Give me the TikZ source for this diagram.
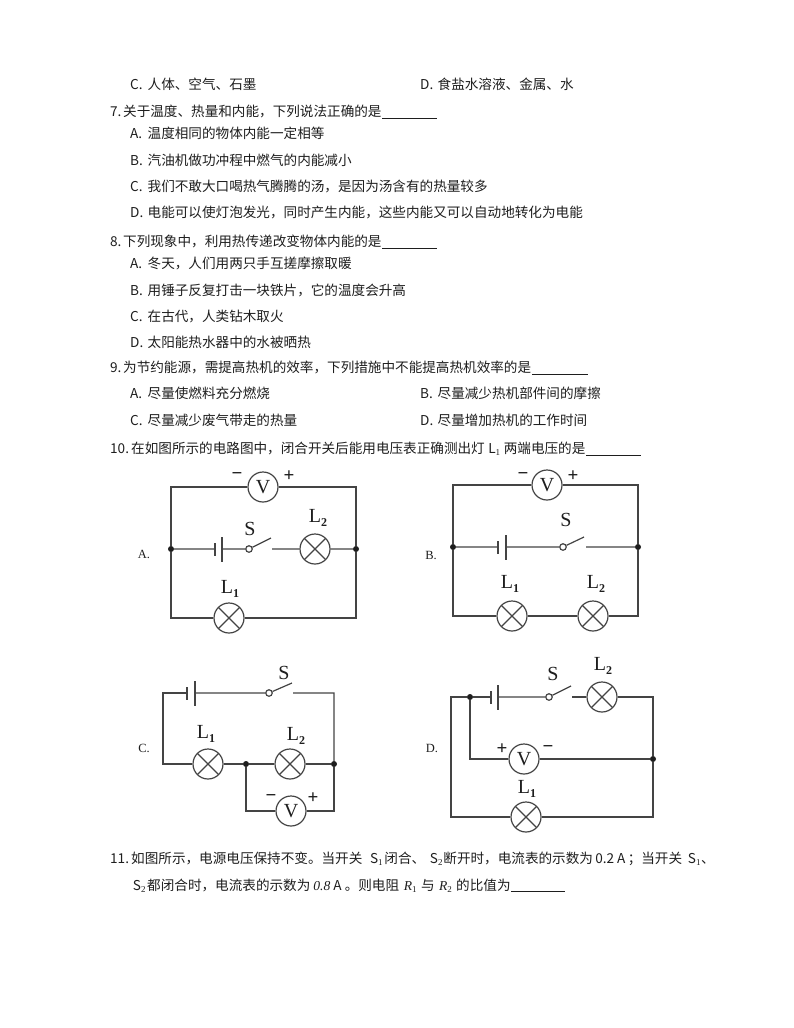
\documentclass[tikz,border=0pt]{standalone}
\usepackage{fontspec}
\setmainfont{Noto Sans CJK SC}
\newfontfamily\lat{Liberation Serif}
\usetikzlibrary{calc}
\definecolor{ink}{HTML}{1E1E1E}
\definecolor{wirec}{HTML}{444444}
\newcommand{\lbl}[2]{{\lat\fontsize{20}{20}\selectfont #1\raisebox{-4pt}{\fontsize{12}{12}\selectfont\bfseries #2}}}
\newcommand{\sbs}[1]{\raisebox{-2pt}{\lat\fontsize{9}{9}\selectfont #1}}
\newcommand{\opt}[1]{\makebox[17.5pt][l]{#1}}
\newcommand{\qn}[2]{\makebox[#1][l]{#2}}
\newcommand{\bx}[2]{\makebox[#1][c]{#2}}
\tikzset{
  x=1pt,y=-1pt,
  txt/.style={inner sep=0pt,anchor=base west,text=ink,font=\fontsize{13.6}{16}\selectfont},
  blank/.style={draw=ink,line width=0.7pt},
  wire/.style={draw=wirec,line width=1.2pt},
  lamp/.style={circle,draw=wirec,line width=1.2pt,minimum size=30pt,inner sep=0pt,
    path picture={\draw[wirec,line width=1.2pt] (path picture bounding box.south west)++(4.4pt,4.4pt) -- ++(21.2pt,21.2pt);
                  \draw[wirec,line width=1.2pt] (path picture bounding box.north west)++(4.4pt,-4.4pt) -- ++(21.2pt,-21.2pt);}},
  meter/.style={circle,draw=wirec,line width=1.2pt,minimum size=30pt,inner sep=0pt,text=ink,font=\lat\fontsize{20}{20}\selectfont},
  jdot/.style={circle,fill=ink,inner sep=0pt,minimum size=6pt},
  pivot/.style={circle,draw=wirec,fill=white,line width=1.2pt,inner sep=0pt,minimum size=6.5pt},
  platelong/.style={rectangle,fill=wirec,inner sep=0pt,minimum width=1.4pt,minimum height=25pt},
  plateshort/.style={rectangle,fill=wirec,inner sep=0pt,minimum width=1.4pt,minimum height=13pt},
  clabel/.style={inner sep=0pt,text=ink},
  sign/.style={inner sep=0pt,text=ink,font=\lat\bfseries\fontsize{19}{19}\selectfont},
  optl/.style={inner sep=0pt,text=ink,font=\lat\fontsize{12.5}{14}\selectfont},
}
\begin{document}
\begin{tikzpicture}
\useasboundingbox (0,0) rectangle (794,1028);
\fill[white] (0,0) rectangle (794,1028);
% text
\node[txt] (t1) at (130,89) {\opt{C.}人体、空气、石墨};
\node[txt] (t2) at (420,89) {\opt{D.}食盐水溶液、金属、水};
\node[txt] (q7) at (110,116) {\qn{13pt}{7.}关于温度、热量和内能，下列说法正确的是};
\draw[blank] (382,118) -- (437,118);
\node[txt] (t3) at (130,138) {\opt{A.}温度相同的物体内能一定相等};
\node[txt] (t4) at (130,165) {\opt{B.}汽油机做功冲程中燃气的内能减小};
\node[txt] (t5) at (130,191) {\opt{C.}我们不敢大口喝热气腾腾的汤，是因为汤含有的热量较多};
\node[txt] (t6) at (130,217) {\opt{D.}电能可以使灯泡发光，同时产生内能，这些内能又可以自动地转化为电能};
\node[txt] (q8) at (110,246) {\qn{13pt}{8.}下列现象中，利用热传递改变物体内能的是};
\draw[blank] (382,248) -- (437,248);
\node[txt] (t7) at (130,268) {\opt{A.}冬天，人们用两只手互搓摩擦取暖};
\node[txt] (t8) at (130,295) {\opt{B.}用锤子反复打击一块铁片，它的温度会升高};
\node[txt] (t9) at (130,321) {\opt{C.}在古代，人类钻木取火};
\node[txt] (t10) at (130,347) {\opt{D.}太阳能热水器中的水被晒热};
\node[txt] (q9) at (110,372) {\qn{13pt}{9.}为节约能源，需提高热机的效率，下列措施中不能提高热机效率的是};
\draw[blank] (532,374) -- (588,374);
\node[txt] (t11) at (130,398) {\opt{A.}尽量使燃料充分燃烧};
\node[txt] (t12) at (420,398) {\opt{B.}尽量减少热机部件间的摩擦};
\node[txt] (t13) at (130,425) {\opt{C.}尽量减少废气带走的热量};
\node[txt] (t14) at (420,425) {\opt{D.}尽量增加热机的工作时间};
\node[txt] (q10) at (110,453) {\qn{21pt}{10.}在如图所示的电路图中，闭合开关后能用电压表正确测出灯\bx{19pt}{L\sbs{1}}两端电压的是};
\draw[blank] (586,455) -- (641,455);
\node[txt] (q11) at (110,863) {\qn{21pt}{11.}如图所示，电源电压保持不变。当开关\bx{22pt}{\hspace{6pt}S\sbs{1}}闭合、\bx{18.2pt}{\hspace{4pt}S\sbs{2}}断开时，电流表的示数为\bx{34.8pt}{0.2 A}；当开关\bx{19pt}{\hspace{5pt}S\sbs{1}}、};
\node[txt] (q11b) at (131,890) {\bx{16pt}{S\sbs{2}}都闭合时，电流表的示数为\bx{34.4pt}{{\lat\itshape 0.8} A}。则电阻\bx{22pt}{{\lat\itshape R}\sbs{1}}与\bx{21.4pt}{{\lat\itshape R}\sbs{2}}的比值为};
\draw[blank] (511,891) -- (565,891);

% ---------- A ----------
\node[optl] (aopt) at (144,554) {A.};
\coordinate (atl) at (171,487); \coordinate (atr) at (356,487);
\coordinate (abl) at (171,618); \coordinate (abr) at (356,618);
\node[jdot] (ajl) at (171,549) {}; \node[jdot] (ajr) at (356,549) {};
\node[meter] (aV) at (263,487) {V};
\node[lamp] (aL1) at (229,618) {}; \node[lamp] (aL2) at (315,549) {};
\node[plateshort] (abs) at (215,549) {}; \node[platelong] (abg) at (222,549) {};
\node[pivot] (asw) at (249,549) {}; \coordinate (aarm) at (271,538); \coordinate (ares) at (272,549);
\draw[wire] (ajl) -- (atl) -- (aV) (aV) -- (atr) -- (ajr) -- (abr) -- (aL1) (aL1) -- (abl) -- (ajl);
\draw[wire] (ajl) -- (abs) (abg) -- (asw) (asw) -- (aarm) (ares) -- (aL2) (aL2) -- (ajr);
\node[sign] (am) at (237,476) {−}; \node[sign] (ap) at (289,476) {+};
\node[clabel] (aS) at (250,531) {\lbl{S}{}}; \node[clabel] (aT2) at (318,518) {\lbl{L}{2}}; \node[clabel] (aT1) at (230,589) {\lbl{L}{1}};

% ---------- B ----------
\node[optl] (bopt) at (431,555) {B.};
\coordinate (btl) at (453,485); \coordinate (btr) at (638,485);
\coordinate (bbl) at (453,616); \coordinate (bbr) at (638,616);
\node[jdot] (bjl) at (453,547) {}; \node[jdot] (bjr) at (638,547) {};
\node[meter] (bV) at (547,485) {V};
\node[lamp] (bL1) at (512,616) {}; \node[lamp] (bL2) at (593,616) {};
\node[plateshort] (bbs) at (498,547) {}; \node[platelong] (bbg) at (506,547) {};
\node[pivot] (bsw) at (563,547) {}; \coordinate (barm) at (584,537); \coordinate (bres) at (586,547);
\draw[wire] (bjl) -- (btl) -- (bV) (bV) -- (btr) -- (bjr) -- (bbr) -- (bL2) (bL2) -- (bL1) (bL1) -- (bbl) -- (bjl);
\draw[wire] (bjl) -- (bbs) (bbg) -- (bsw) (bsw) -- (barm) (bres) -- (bjr);
\node[sign] (bm) at (523,476) {−}; \node[sign] (bp) at (573,476) {+};
\node[clabel] (bS) at (566,522) {\lbl{S}{}}; \node[clabel] (bT1) at (510,584) {\lbl{L}{1}}; \node[clabel] (bT2) at (596,584) {\lbl{L}{2}};

% ---------- C ----------
\node[optl] (copt) at (144,748) {C.};
\coordinate (ctl) at (163,693); \coordinate (ctr) at (334,693);
\coordinate (cml) at (163,764); \coordinate (cbl) at (246,811); \coordinate (cbr) at (334,811);
\node[jdot] (cj1) at (246,764) {}; \node[jdot] (cj2) at (334,764) {};
\node[meter] (cV) at (291,811) {V};
\node[lamp] (cL1) at (208,764) {}; \node[lamp] (cL2) at (290,764) {};
\node[plateshort] (cbs) at (187,693) {}; \node[platelong] (cbg) at (195,693) {};
\node[pivot] (csw) at (269,693) {}; \coordinate (carm) at (292,683); \coordinate (cres) at (293,693);
\draw[wire] (cbs) -- (ctl) -- (cml) -- (cL1) (cL1) -- (cj1) -- (cL2) (cL2) -- (cj2) -- (cbr) -- (cV) (cV) -- (cbl) -- (cj1);
\draw[wire] (cbg) -- (csw) (csw) -- (carm) (cres) -- (ctr) -- (cj2);
\node[sign] (cm) at (271,798) {−}; \node[sign] (cp) at (313,798) {+};
\node[clabel] (cS) at (284,675) {\lbl{S}{}}; \node[clabel] (cT1) at (206,734) {\lbl{L}{1}}; \node[clabel] (cT2) at (296,736) {\lbl{L}{2}};

% ---------- D ----------
\node[optl] (dopt) at (432,748) {D.};
\coordinate (dtl) at (451,697); \coordinate (dtr) at (653,697);
\coordinate (dbl) at (451,817); \coordinate (dbr) at (653,817); \coordinate (dvl) at (470,759);
\node[jdot] (dj1) at (470,697) {}; \node[jdot] (dj2) at (653,759) {};
\node[meter] (dV) at (524,759) {V};
\node[lamp] (dL1) at (526,817) {}; \node[lamp] (dL2) at (602,697) {};
\node[plateshort] (dbs) at (491,697) {}; \node[platelong] (dbg) at (498,697) {};
\node[pivot] (dsw) at (549,697) {}; \coordinate (darm) at (571,686); \coordinate (dres) at (572,697);
\draw[wire] (dbs) -- (dj1) -- (dtl) -- (dbl) -- (dL1) (dL1) -- (dbr) -- (dj2) -- (dtr) -- (dL2) (dL2) -- (dres);
\draw[wire] (dbg) -- (dsw) (dsw) -- (darm);
\draw[wire] (dj1) -- (dvl) -- (dV) (dV) -- (dj2);
\node[sign] (dp) at (502,749) {+}; \node[sign] (dm) at (548,749) {−};
\node[clabel] (dS) at (553,676) {\lbl{S}{}}; \node[clabel] (dT2) at (603,666) {\lbl{L}{2}}; \node[clabel] (dT1) at (527,789) {\lbl{L}{1}};
\end{tikzpicture}
\end{document}
